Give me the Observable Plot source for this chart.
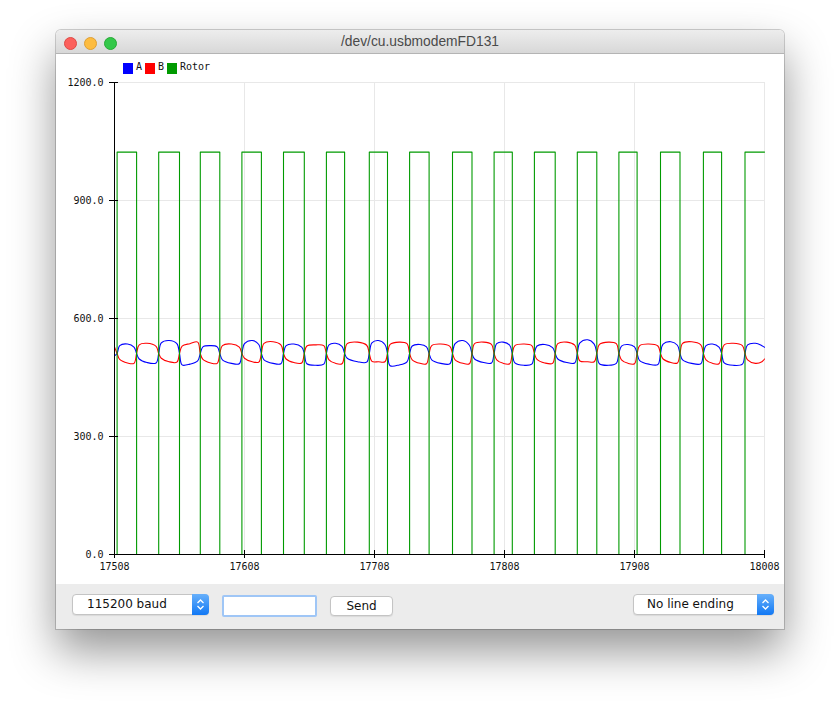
<!DOCTYPE html>
<html>
<head>
<meta charset="utf-8">
<script src="https://cdn.jsdelivr.net/npm/d3@7"></script>
<script src="https://cdn.jsdelivr.net/npm/@observablehq/plot@0.6"></script>
<style>
  html, body { margin: 0; padding: 0; background: #ffffff; }
  body { width: 840px; height: 709px; position: relative; overflow: hidden; }
  #win {
    position: absolute; left: 56px; top: 30px; width: 728px; height: 599px;
    background: #ffffff; border-radius: 5px 5px 0 0;
    box-shadow: 0 22px 45px rgba(0,0,0,0.42), 0 0 0 1px rgba(0,0,0,0.18);
    overflow: hidden;
  }
  #titlebar {
    position: absolute; left: 0; top: 0; width: 728px; height: 23px;
    background: linear-gradient(#ededed, #d8d8d8);
    border-bottom: 1px solid #b4b4b4;
  }
  #title {
    position: absolute; left: 0; width: 728px; top: 4px; text-align: center;
    font-family: "Liberation Sans", Arial, sans-serif; font-size: 13.8px; color: #4a4a4a;
  }
  .light { position: absolute; top: 7px; width: 11px; height: 11px; border-radius: 50%; }
  #plotarea { position: absolute; left: 0; top: 24px; width: 728px; height: 530px; background: #fff; }
  #legend {
    position: absolute; left: 66.7px; top: 9px; display: flex; align-items: center;
    font-family: "DejaVu Sans Mono", monospace; font-size: 10px; color: #111;
  }
  #legend .sq { width: 10.6px; height: 10.6px; margin-right: 2.7px; }
  #legend .lb { margin-right: 2.7px; position: relative; top: -2px; }
  #bottombar {
    position: absolute; left: 0; top: 554px; width: 728px; height: 45px; background: #ececec;
  }
  .ctl {
    position: absolute; box-sizing: border-box; background: #fff;
    border: 1px solid #c4c4c4; border-radius: 4px;
    box-shadow: 0 1px 1px rgba(0,0,0,0.08);
    font-family: "DejaVu Sans", sans-serif; font-size: 12px; color: #111;
  }
  .stepper {
    position: absolute; right: -1px; top: -1px; bottom: -1px; width: 17px;
    background: linear-gradient(#67b0fb, #1178f4); border-radius: 0 4px 4px 0;
  }
  .stepper svg { position: absolute; left: 4px; top: 4px; }
</style>
</head>
<body>
<div id="win">
  <div id="titlebar">
    <div class="light" style="left:8px;background:#fc605c;border:0.5px solid #de4a45"></div>
    <div class="light" style="left:27.7px;background:#fdbc40;border:0.5px solid #de9f34"></div>
    <div class="light" style="left:48px;background:#34c84a;border:0.5px solid #27aa35"></div>
    <div id="title">/dev/cu.usbmodemFD131</div>
  </div>
  <div id="plotarea">
    <div id="chart"></div>
    <div id="legend"></div>
  </div>
  <div id="bottombar">
    <div class="ctl" style="left:16px;top:10px;width:137px;height:21px;">
      <span style="position:absolute;left:14px;top:2px;">115200 baud</span>
      <div class="stepper"><svg width="9" height="13" viewBox="0 0 9 13"><path d="M1.5 5 L4.5 2 L7.5 5 M1.5 8 L4.5 11 L7.5 8" fill="none" stroke="#fff" stroke-width="1.3"/></svg></div>
    </div>
    <div class="ctl" style="left:166px;top:11px;width:95px;height:22px;border:2.5px solid #9fc6f6;border-radius:2px;box-shadow:none;"></div>
    <div class="ctl" style="left:274px;top:12px;width:63px;height:20px;">
      <span style="position:absolute;left:0;width:61px;text-align:center;top:1.5px;">Send</span>
    </div>
    <div class="ctl" style="left:577px;top:10px;width:141px;height:21px;">
      <span style="position:absolute;left:13px;top:2px;">No line ending</span>
      <div class="stepper"><svg width="9" height="13" viewBox="0 0 9 13"><path d="M1.5 5 L4.5 2 L7.5 5 M1.5 8 L4.5 11 L7.5 8" fill="none" stroke="#fff" stroke-width="1.3"/></svg></div>
    </div>
  </div>
</div>
<script>
// ---- data ----
const seriesNames = ["A", "B", "Rotor"];
const seriesColors = ["#0000ff", "#ff0000", "#009a00"];

const xTicks = [17508, 17608, 17708, 17808, 17908, 18008];
const yTicks = [0, 300, 600, 900, 1200];

// sample numbers of the key points of A and B
const sampleX = [
  17508,
  17510,17512,17518,17523, 17525,17527,17533,17540, 17542,17544,17550,17556,
  17558,17560,17566,17572, 17574,17576,17582,17587, 17589,17591,17598,17604,
  17606,17608,17614,17619, 17621,17623,17630,17636, 17638,17640,17646,17652,
  17654,17656,17663,17669, 17671,17673,17678,17683, 17685,17687,17695,17702,
  17704,17706,17711,17716, 17718,17720,17727,17733, 17735,17737,17743,17748,
  17750,17752,17759,17766, 17768,17770,17776,17781, 17783,17785,17792,17798,
  17800,17802,17807,17812, 17814,17816,17823,17829, 17831,17833,17839,17845,
  17847,17849,17856,17862, 17864,17866,17872,17877, 17879,17881,17888,17894,
  17896,17898,17903,17908, 17910,17912,17919,17926, 17928,17930,17936,17941,
  17943,17945,17952,17959, 17961,17963,17968,17973, 17975,17977,17984,17991,
  17993,17995,18001,18006,18008
];
const seriesA = [
  505,
  511,531,535,527, 511,497,488,487, 511,538,544,536,
  511,482,484,492, 511,528,531,528, 511,495,486,485,
  511,536,544,534, 511,495,486,485, 511,531,535,527,
  511,485,481,484, 511,533,537,529, 511,499,490,489,
  511,538,544,534, 511,480,482,490, 511,530,534,528,
  511,495,486,485, 511,536,544,532, 511,497,488,487,
  511,536,540,532, 511,487,481,484, 511,530,534,526,
  511,497,488,487, 511,538,546,535, 511,485,481,486,
  511,530,534,528, 511,493,484,483, 511,535,541,532,
  511,495,486,485, 511,531,535,527, 511,487,481,484,
  511,533,537,531,527
];
const seriesB = [
  528,
  511,496,487,486, 511,533,537,529, 511,499,490,489,
  511,530,536,540, 511,496,487,486, 511,531,535,527,
  511,499,490,489, 511,537,541,533, 511,497,488,487,
  511,530,533,531, 511,495,486,485, 511,536,540,532,
  511,491,490,490, 511,534,540,536, 511,495,486,485,
  511,531,535,529, 511,495,486,485, 511,536,540,534,
  511,495,486,485, 511,531,535,531, 511,496,487,486,
  511,536,540,532, 511,492,490,490, 511,534,540,536,
  511,495,486,485, 511,531,535,530, 511,497,488,487,
  511,537,541,533, 511,495,486,485, 511,533,537,531,
  511,495,486,490,497
];
// rotor square wave: sample number of each edge and the level after it
const rotorEdges = [
  17508, 17510, 17525, 17542, 17558, 17574, 17589, 17606, 17621, 17638, 17654,
  17671, 17685, 17704, 17718, 17735, 17750, 17768, 17783, 17800, 17814, 17831,
  17847, 17864, 17879, 17896, 17910, 17928, 17943, 17961, 17975, 17993, 18008
];
const rotorLevels = [
  0, 1023, 0, 1023, 0, 1023, 0, 1023, 0, 1023, 0,
  1023, 0, 1023, 0, 1023, 0, 1023, 0, 1023, 0, 1023,
  0, 1023, 0, 1023, 0, 1023, 0, 1023, 0, 1023, 1023
];

// ---- build tables ----
const abData = sampleX.map((x, i) => ({x, A: seriesA[i], B: seriesB[i]}));
const rotorData = rotorEdges.map((x, i) => ({x, v: rotorLevels[i]}));
const fmtY = d3.format(".1f");

const chart = Plot.plot({
  width: 728,
  height: 530,
  marginLeft: 58,
  marginRight: 20,
  marginTop: 28,
  marginBottom: 30,
  style: {background: "#ffffff", fontFamily: "'DejaVu Sans Mono', monospace", fontSize: "10px", color: "#111"},
  x: {domain: [17508, 18008], label: null},
  y: {domain: [0, 1200], label: null},
  marks: [
    Plot.gridX(xTicks, {stroke: "#e8e8e8", strokeOpacity: 1}),
    Plot.gridY(yTicks, {stroke: "#e8e8e8", strokeOpacity: 1}),
    Plot.line(abData, {x: "x", y: "A", stroke: seriesColors[0], strokeWidth: 1.1, curve: "catmull-rom"}),
    Plot.line(abData, {x: "x", y: "B", stroke: seriesColors[1], strokeWidth: 1.1, curve: "catmull-rom"}),
    Plot.line(rotorData, {x: "x", y: "v", stroke: seriesColors[2], strokeWidth: 1.1, curve: "step-after"}),
    Plot.ruleX([17508], {stroke: "#000"}),
    Plot.ruleY([0], {stroke: "#000"}),
    Plot.axisX(xTicks, {tickSize: 8, dy: -4, tickPadding: 4, tickFormat: d => String(d), stroke: "#000", fill: "#111", label: null}),
    Plot.axisY(yTicks, {tickSize: 9, dx: 4, tickPadding: 6, tickFormat: fmtY, stroke: "#000", fill: "#111", label: null})
  ]
});
document.getElementById("chart").appendChild(chart);

// legend
const legend = document.getElementById("legend");
seriesNames.forEach((name, i) => {
  const sq = document.createElement("div");
  sq.className = "sq";
  sq.style.background = seriesColors[i];
  const lb = document.createElement("span");
  lb.className = "lb";
  lb.textContent = name;
  legend.appendChild(sq);
  legend.appendChild(lb);
});
</script>
</body>
</html>
